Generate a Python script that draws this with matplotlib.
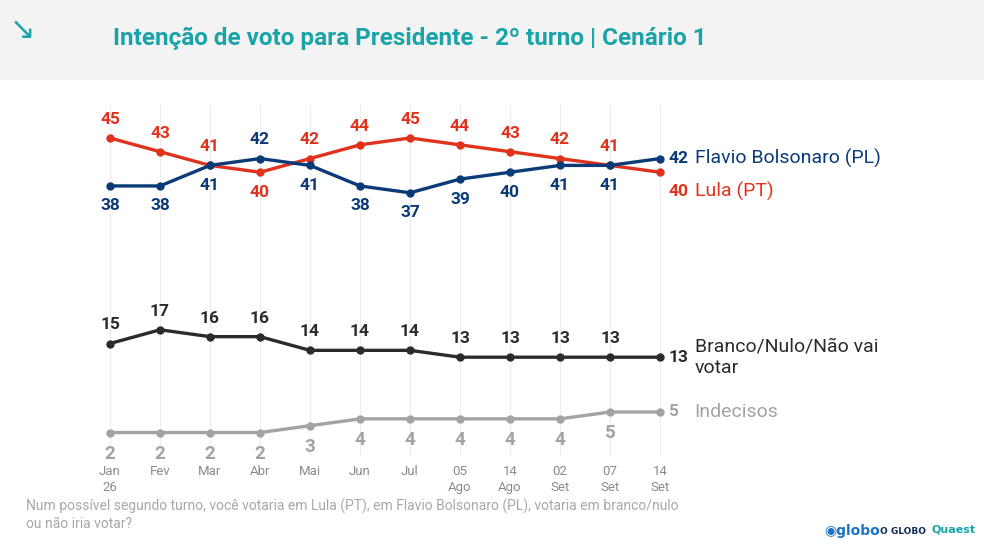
import matplotlib.pyplot as plt

periods = ["Jan\n26", "Fev", "Mar", "Abr", "Mai", "Jun", "Jul",
           "05\nAgo", "14\nAgo", "02\nSet", "07\nSet", "14\nSet"]
lula = [45, 43, 41, 40, 42, 44, 45, 44, 43, 42, 41, 40]
flavio = [38, 38, 41, 42, 41, 38, 37, 39, 40, 41, 41, 42]
branco = [15, 17, 16, 16, 14, 14, 14, 13, 13, 13, 13, 13]
indecisos = [2, 2, 2, 2, 3, 4, 4, 4, 4, 4, 5, 5]

RED = "#e0321c"
NAVY = "#0b3a78"
DARK = "#2b2b2b"
GREY = "#a3a3a3"
TEAL = "#1aa3a8"

fig = plt.figure(figsize=(9.84, 5.53), dpi=100)
fig.patch.set_facecolor("white")

# header band
fig.patches.append(plt.Rectangle((0, 1 - 80 / 553), 1, 80 / 553, transform=fig.transFigure,
                                 facecolor="#f3f3f3", edgecolor="none", zorder=0))
fig.text(113 / 984, 1 - 38 / 553, "Intenção de voto para Presidente - 2º turno | Cenário 1",
         color=TEAL, fontsize=17.5, fontweight="bold", va="center", family="Roboto")
fig.text(22 / 984, 1 - 30 / 553, "↘", color=TEAL, fontsize=22, va="center", ha="center")

ax = fig.add_axes([0, 0, 1, 1])
ax.set_facecolor("none")
step = 50.0
scale = 6.85
ax.set_xlim(-110 / step, (984 - 110) / step)
ax.set_ylim(45 - (553 - 138) / scale, 45 + 138 / scale)
ax.axis("off")

x = list(range(len(periods)))
for xi in x:
    ax.plot([xi, xi], [45 - (455 - 138) / scale, 45 - (105 - 138) / scale],
            color="#ededed", lw=0.8, zorder=1)

def draw(vals, color, above, fs=12.5):
    ax.plot(x[:len(vals)], vals, color=color, lw=2.4, marker="o", ms=5, zorder=3)
    for i, v in enumerate(vals[:-1]):
        up = above[i]
        ax.annotate(str(v), (i, v), xytext=(0, 8 if up else -9), textcoords="offset points",
                    ha="center", va="bottom" if up else "top", color=color,
                    fontsize=fs, fontweight="bold", family="Roboto")

lula_up = [l >= f for l, f in zip(lula, flavio)]
draw(lula, RED, lula_up)
draw(flavio, NAVY, [not u for u in lula_up])
draw(branco, DARK, [True] * 12)
draw(indecisos, GREY, [False] * 12, fs=13.5)

last = len(periods) - 1
def endlabel(v, num, txt, color, dy=0, fs=14):
    ax.annotate(num, (last, v), xytext=(6, dy), textcoords="offset points", ha="left",
                va="center", color=color, fontsize=12.5, fontweight="bold", family="Roboto")
    ax.annotate(txt, (last, v), xytext=(25, dy), textcoords="offset points", ha="left",
                va="center", color=color, fontsize=fs, family="Roboto")

endlabel(flavio[-1], "42", "Flavio Bolsonaro (PL)", NAVY)
endlabel(lula[-1], "40", "Lula (PT)", RED, dy=-14)
endlabel(branco[-1], "13", "Branco/Nulo/Não vai\nvotar", DARK, dy=0)
endlabel(indecisos[-1], "5", "Indecisos", GREY, dy=0)

for i, p in enumerate(periods):
    ax.text(i, 45 - (465 - 138) / scale, p, ha="center", va="top", color="#8a8a8a",
            fontsize=9.5, linespacing=1.3, family="Roboto")

fig.text(26 / 984, 1 - 515 / 553,
         "Num possível segundo turno, você votaria em Lula (PT), em Flavio Bolsonaro (PL), votaria em branco/nulo\nou não iria votar?",
         color="#a8a8a8", fontsize=10, va="center", linespacing=1.3, family="Roboto")
fig.text(824 / 984, 1 - 531 / 553, "◉globo", color="#1a73c8", fontsize=10, fontweight="bold", va="center")
fig.text(880 / 984, 1 - 531 / 553, "O GLOBO", color="#0b2a55", fontsize=6.5, fontweight="bold", va="center")
fig.text(932 / 984, 1 - 529 / 553, "Quaest", color=TEAL, fontsize=8, fontweight="bold", va="center")

fig.savefig("out.png", dpi=100)
